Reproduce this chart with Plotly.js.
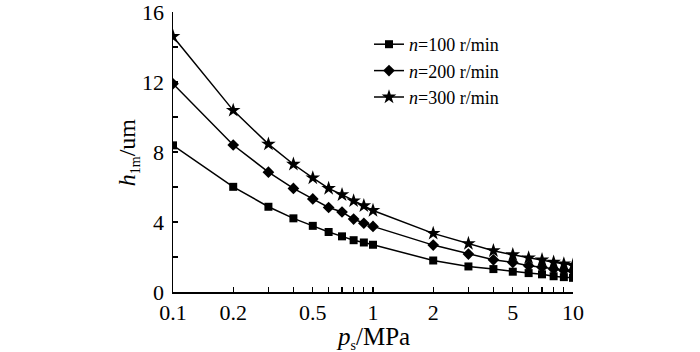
<!DOCTYPE html>
<html><head><meta charset="utf-8">
<script src="https://cdn.plot.ly/plotly-3.0.1.min.js"></script>
<style>html,body{margin:0;padding:0;background:#fff}#c{width:700px;height:352px}</style>
</head><body><div id="c"></div>
<script>
const ps = [0.1,0.2,0.3,0.4,0.5,0.6,0.7,0.8,0.9,1,2,3,4,5,6,7,8,9,10];
const h100 = [8.38,6.01,4.87,4.21,3.78,3.43,3.18,2.96,2.83,2.70,1.80,1.46,1.31,1.16,1.08,1.01,0.90,0.85,0.81];
const h200 = [11.9,8.40,6.85,5.92,5.32,4.83,4.57,4.17,3.93,3.75,2.68,2.17,1.84,1.69,1.50,1.42,1.31,1.24,1.20];
const h300 = [14.6,10.38,8.45,7.30,6.52,5.92,5.56,5.21,4.93,4.66,3.35,2.77,2.36,2.13,1.95,1.84,1.70,1.61,1.53];
const names = ['<i>n</i>=100 r/min','<i>n</i>=200 r/min','<i>n</i>=300 r/min'];
const xTickVals = [0.1,0.2,0.5,1,2,5,10];
const xTickText = ['0.1','0.2','0.5','1','2','5','10'];
const xMinorVals = [0.3,0.4,0.6,0.7,0.8,0.9,3,4,6,7,8,9];
const yTickVals = [0,4,8,12,16];
const yMinorVals = [2,6,10,14];
const yTitle = '<i>h</i><sub><span style="font-size:14px">1m</span></sub>/um';
const xTitle = '<i>p</i><sub><span style="font-size:14px">s</span></sub>/MPa';

const fam = '"Liberation Serif", "Times New Roman", serif';
const f = s => ({family:fam, size:s, color:'#000'});
const ln = {color:'#000', width:1.5};
const traces = [
  {x:ps, y:h100, name:names[0], mode:'lines+markers', line:ln, marker:{symbol:'square', size:8, color:'#000'}},
  {x:ps, y:h200, name:names[1], mode:'lines+markers', line:ln, marker:{symbol:'diamond', size:9, color:'#000'}},
  {x:ps, y:h300, name:names[2], mode:'lines+markers', line:ln, marker:{symbol:'star', size:11, color:'#000'}}
];
const tickStyle = {ticks:'inside', ticklen:5, tickwidth:1.2, tickcolor:'#000'};
const layout = {
  width:700, height:352,
  margin:{l:173, r:127, t:12, b:60},
  paper_bgcolor:'#fff', plot_bgcolor:'#fff',
  font:f(21),
  showlegend:true,
  legend:{x:0.49, y:0.95, xanchor:'left', yanchor:'top', bgcolor:'rgba(0,0,0,0)',
    font:f(18), tracegroupgap:0, itemwidth:30},
  xaxis:Object.assign({type:'log', range:[Math.log10(0.1), Math.log10(10)], showgrid:false, zeroline:false,
    showline:true, linecolor:'#000', linewidth:1.5,
    tickmode:'array', tickvals:xTickVals, ticktext:xTickText, tickfont:f(22),
    minor:Object.assign({tickmode:'array', tickvals:xMinorVals, showgrid:false}, tickStyle)}, tickStyle),
  yaxis:Object.assign({range:[0,16], showgrid:false, zeroline:false,
    showline:true, linecolor:'#000', linewidth:1.5, ticklabeloverflow:'allow',
    tickmode:'array', tickvals:yTickVals, tickfont:f(22), ticklabelstandoff:3,
    minor:Object.assign({tickmode:'array', tickvals:yMinorVals, showgrid:false}, tickStyle)}, tickStyle),
  annotations:[
    {text:yTitle, xref:'paper', yref:'paper', x:-0.112, y:0.5, xanchor:'center', yanchor:'middle',
      textangle:-90, showarrow:false, font:f(24)},
    {text:xTitle, xref:'paper', yref:'paper', x:0.5, y:-0.165, xanchor:'center', yanchor:'middle',
      showarrow:false, font:f(25)}
  ]
};
Plotly.newPlot('c', traces, layout, {displayModeBar:false, staticPlot:true});
</script></body></html>
